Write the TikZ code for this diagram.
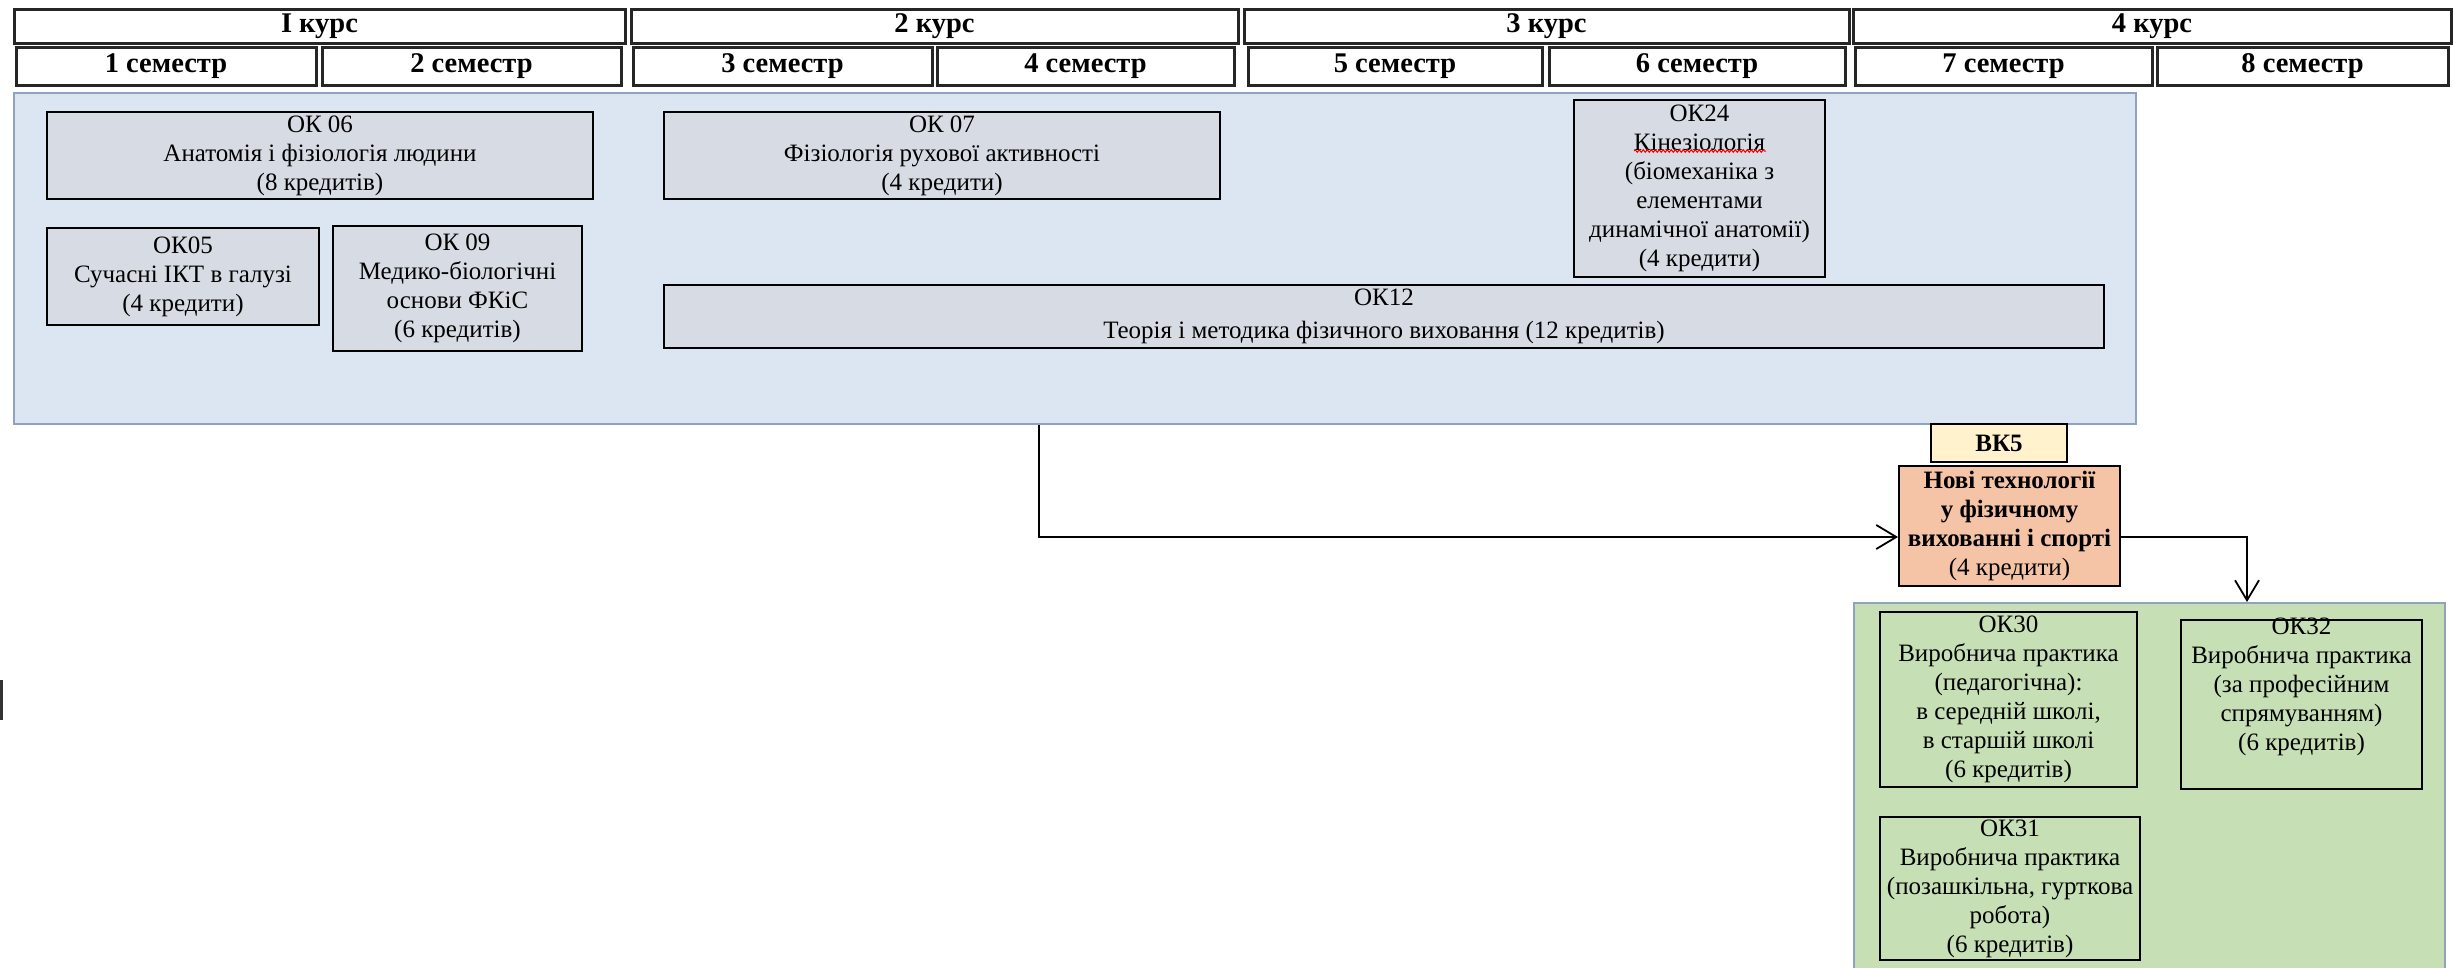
\documentclass[tikz,border=0pt]{standalone}
\usepackage{fontspec}
\setmainfont{Liberation Serif}
\usetikzlibrary{arrows.meta,decorations.pathmorphing}
\definecolor{bluefill}{HTML}{DCE6F2}
\definecolor{blueline}{HTML}{8FA3BF}
\definecolor{innergray}{HTML}{D7DCE4}
\definecolor{bkfill}{HTML}{FFF2CC}
\definecolor{orfill}{HTML}{F5C4A7}
\definecolor{grfill}{HTML}{C6DFB5}
\tikzset{
  txt/.style={font=\fontsize{25}{29}\selectfont, align=center, inner sep=0pt},
  box/.style={draw=black, line width=2pt, fill=innergray, txt},
  gbox/.style={box, fill=grfill},
  hdr/.style={draw=black!85, line width=3pt, fill=white, inner sep=0pt,
    font=\fontsize{28.5}{30}\selectfont\bfseries},
  area/.style={draw=blueline, line width=2pt},
  arr/.style={line width=1.8pt, -{Straight Barb[length=20pt,width=24pt,line width=1.8pt]}}
}
\begin{document}
\begin{tikzpicture}[x=1pt,y=-1pt]
\fill[white] (0,0) rectangle (2453,967);
\useasboundingbox (0,0) rectangle (2453,967);
% header
\node[hdr, minimum width=611, minimum height=34] (k1) at (319.5,26) {І курс};
\node[hdr, minimum width=607, minimum height=34] (k2) at (934.5,26) {2 курс};
\node[hdr, minimum width=605, minimum height=34] (k3) at (1546.5,26) {3 курс};
\node[hdr, minimum width=598, minimum height=34] (k4) at (2152,26) {4 курс};
\node[hdr, minimum width=300, minimum height=38] (s1) at (166,66) {1 семестр};
\node[hdr, minimum width=299, minimum height=38] (s2) at (471.5,66) {2 семестр};
\node[hdr, minimum width=299, minimum height=38] (s3) at (782.5,66) {3 семестр};
\node[hdr, minimum width=297, minimum height=38] (s4) at (1085.5,66) {4 семестр};
\node[hdr, minimum width=294, minimum height=38] (s5) at (1395,66) {5 семестр};
\node[hdr, minimum width=296, minimum height=38] (s6) at (1697,66) {6 семестр};
\node[hdr, minimum width=297, minimum height=38] (s7) at (2003.5,66) {7 семестр};
\node[hdr, minimum width=291, minimum height=38] (s8) at (2302.5,66) {8 семестр};
% blue area
\node[area, fill=bluefill, minimum width=2122, minimum height=331] (blue) at (1075,258.5) {};
\node[box, minimum width=546, minimum height=87] (ok06) at (320,155.5) {ОК 06\\Анатомія і фізіологія людини\\(8 кредитів)};
\node[box, minimum width=272, minimum height=97] (ok05) at (183,276.5) {ОК05\\Сучасні ІКТ в галузі\\(4 кредити)};
\node[box, minimum width=249, minimum height=125] (ok09) at (457.5,288.5) {ОК 09\\Медико-біологічні\\основи ФКіС\\(6 кредитів)};
\node[box, minimum width=556, minimum height=87] (ok07) at (942,155.5) {ОК 07\\Фізіологія рухової активності\\(4 кредити)};
\node[box, minimum width=251, minimum height=177] (ok24) at (1699.5,188.5) {ОК24\\Кінезіологія\\(біомеханіка з\\елементами\\динамічної анатомії)\\(4 кредити)};
\draw[red, line width=1pt, decorate, decoration={snake, amplitude=1.3pt, segment length=4pt}] (1634,151) -- (1766,151);
\node[box, minimum width=1440, minimum height=63, font=\fontsize{25}{33}\selectfont] (ok12) at (1384,316.5) {ОК12\\Теорія і методика фізичного виховання (12 кредитів)};
% elective
\node[box, fill=bkfill, minimum width=136, minimum height=38, font=\fontsize{25}{29}\selectfont\bfseries] (bk5) at (1999,443) {ВК5};
\node[box, fill=orfill, minimum width=221, minimum height=120] (nt) at (2009.5,526) {\textbf{Нові технології}\\\textbf{у фізичному}\\\textbf{вихованні і спорті}\\(4 кредити)};
% green area
\node[area, fill=grfill, minimum width=591, minimum height=372] (green) at (2149.5,789) {};
\node[gbox, minimum width=257, minimum height=175] (ok30) at (2008.5,699.5) {ОК30\\Виробнича практика\\(педагогічна):\\в середній школі,\\в старшій школі\\(6 кредитів)};
\node[gbox, minimum width=241, minimum height=169] (ok32) at (2301.5,704.5) {};
\node[txt, anchor=north] (ok32t) at ([yshift=1pt]ok32.north) {ОК32\\Виробнича практика\\(за професійним\\спрямуванням)\\(6 кредитів)};
\node[gbox, minimum width=260, minimum height=143] (ok31) at (2010,888.5) {ОК31\\Виробнича практика\\(позашкільна, гурткова\\робота)\\(6 кредитів)};
% connectors
\coordinate (c1) at (1039,0);
\coordinate (c2) at (2247,0);
\draw[arr] (blue.south -| c1) |- ([yshift=-11pt]nt.west);
\draw[arr] ([yshift=-11pt]nt.east) -| (green.north -| c2);
% stray mark at left edge
\fill[black!80] (0,680) rectangle (3,720);
\end{tikzpicture}
\end{document}
